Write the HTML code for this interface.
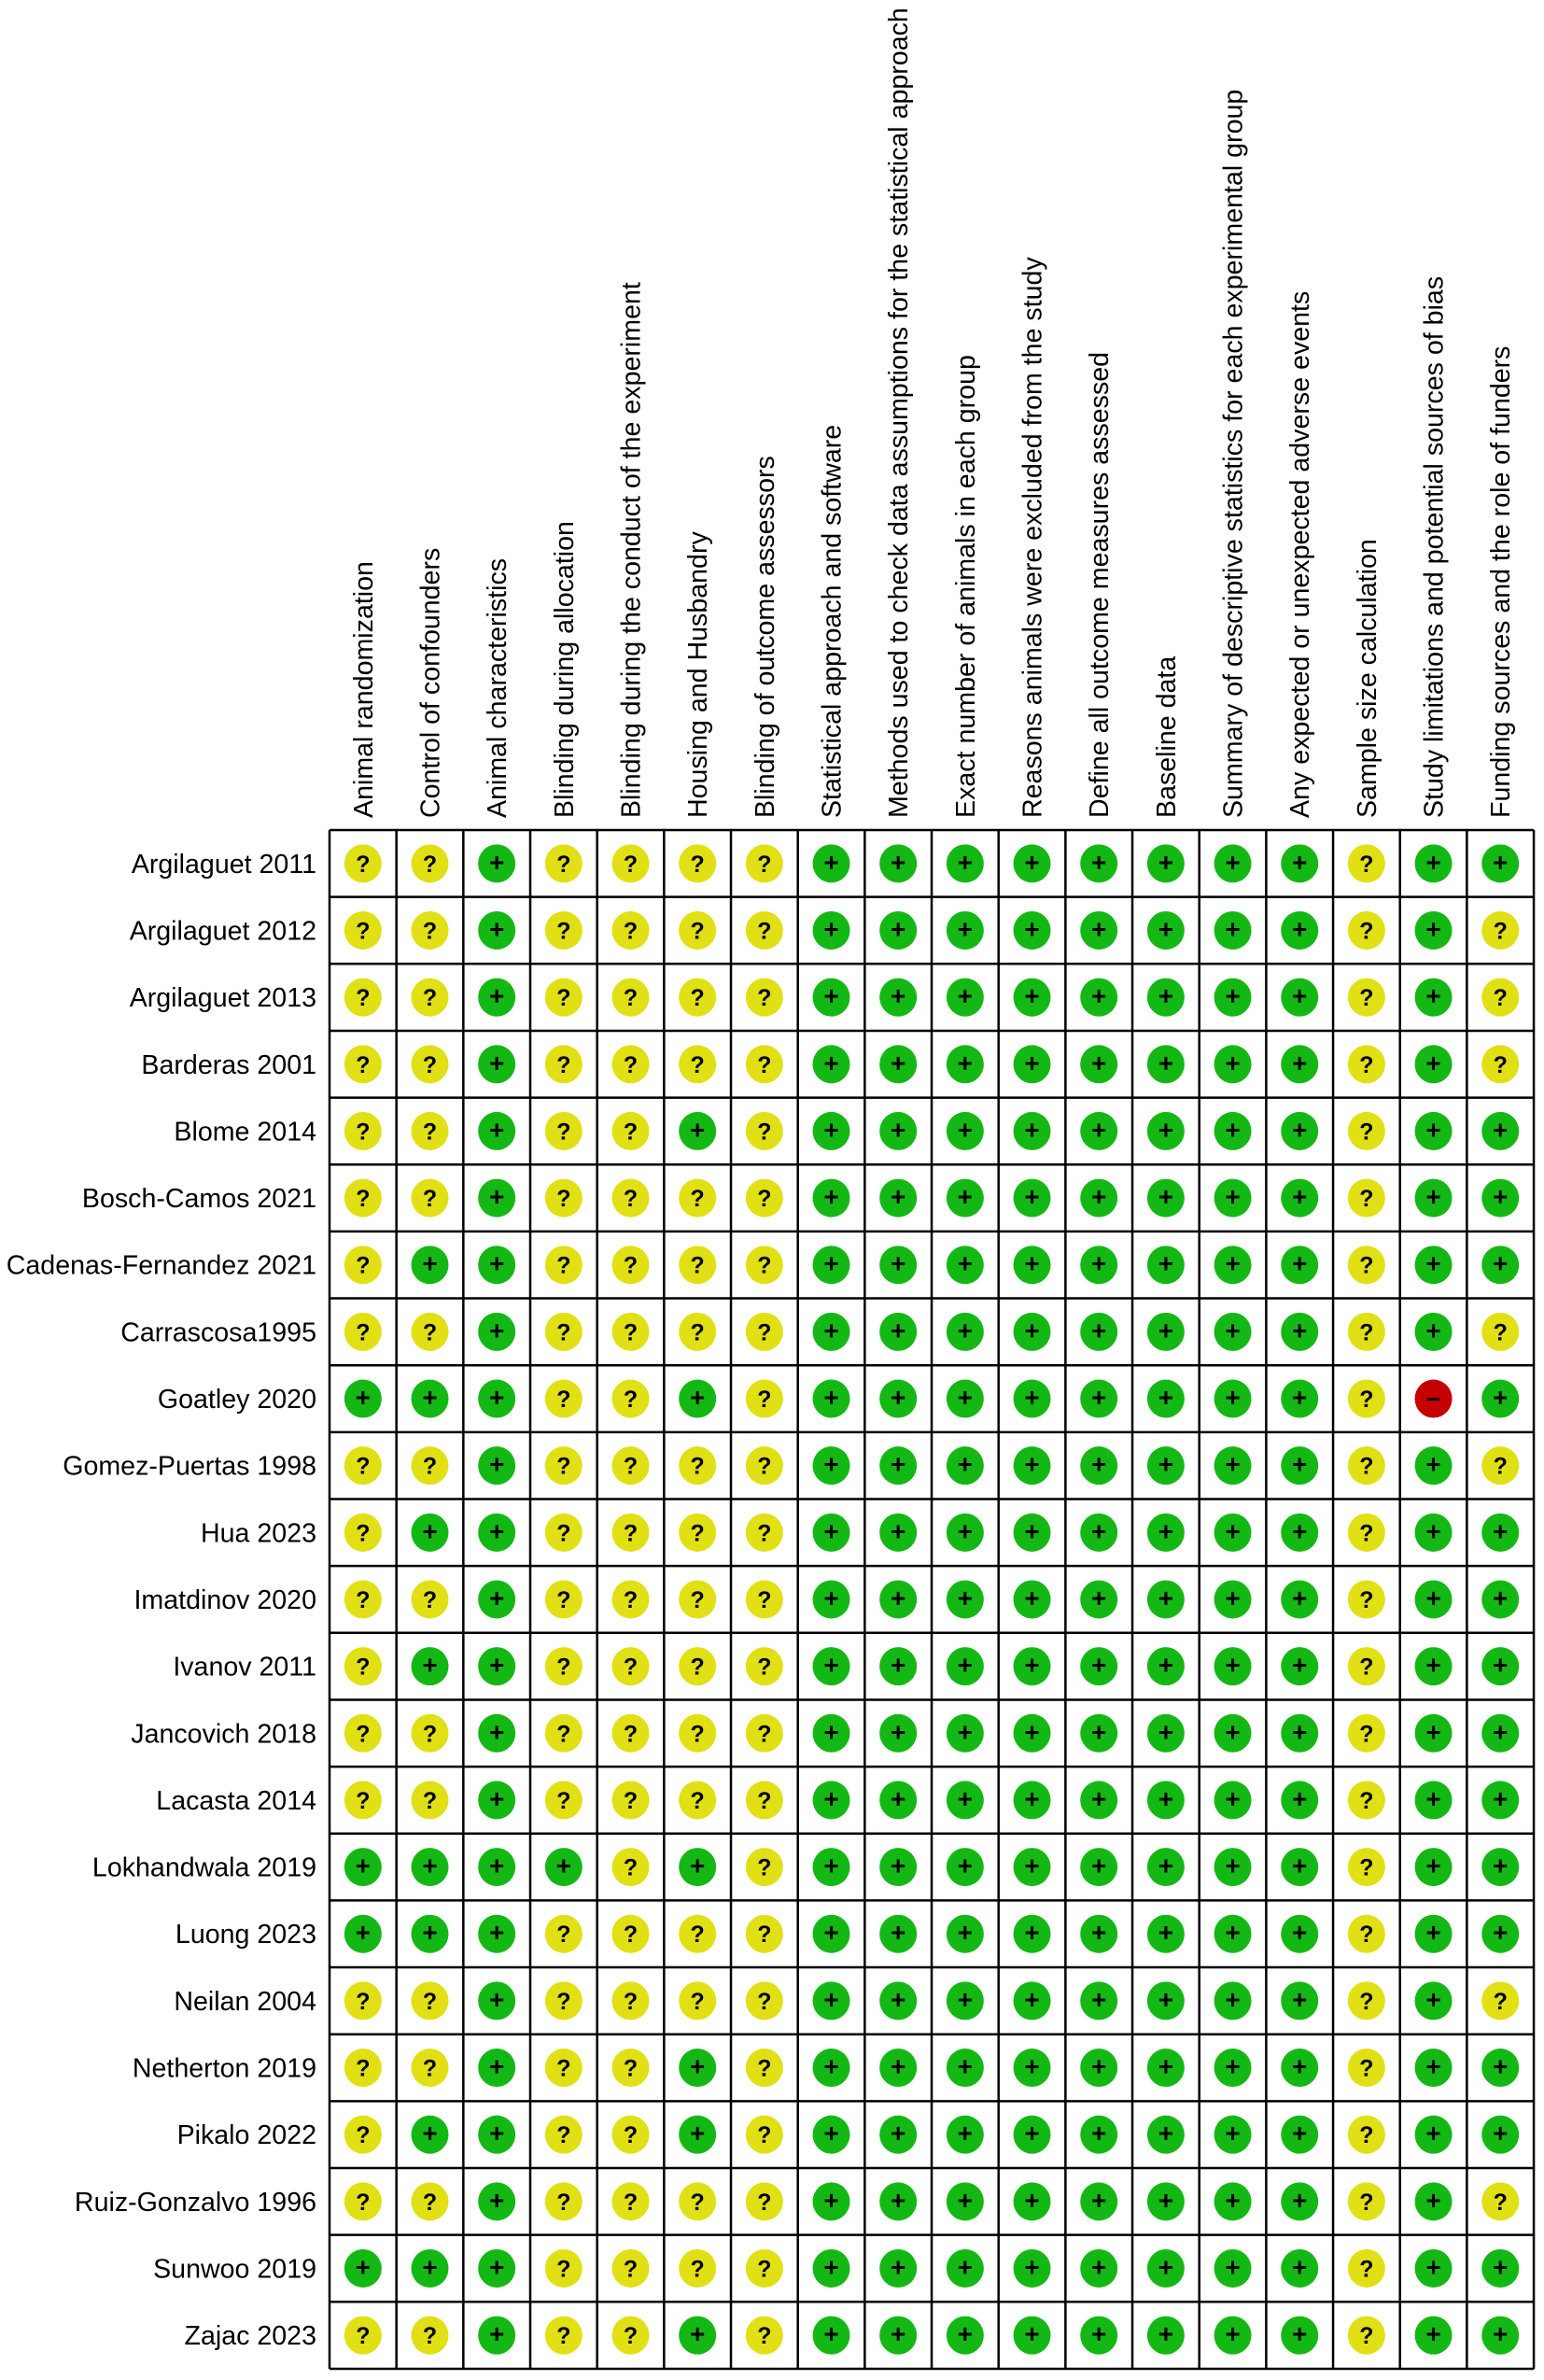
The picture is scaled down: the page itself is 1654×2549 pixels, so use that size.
<!DOCTYPE html>
<html><head><meta charset="utf-8"><style>
html,body{margin:0;padding:0;background:#fff;}
svg{display:block;font-family:"Liberation Sans",Arial,sans-serif;}
</style></head><body>
<svg id="chart" width="1654" height="2549" viewBox="0 0 1654 2549" xmlns="http://www.w3.org/2000/svg"></svg>
<script>
const domains = ["Animal randomization","Control of confounders","Animal characteristics","Blinding during allocation","Blinding during the conduct of the experiment","Housing and Husbandry","Blinding of outcome assessors","Statistical approach and software","Methods used to check data assumptions for the statistical approach","Exact number of animals in each group","Reasons animals were excluded from the study","Define all outcome measures assessed","Baseline data","Summary of descriptive statistics for each experimental group","Any expected or unexpected adverse events","Sample size calculation","Study limitations and potential sources of bias","Funding sources and the role of funders"];
const studies = ["Argilaguet 2011","Argilaguet 2012","Argilaguet 2013","Barderas 2001","Blome 2014","Bosch-Camos 2021","Cadenas-Fernandez 2021","Carrascosa1995","Goatley 2020","Gomez-Puertas 1998","Hua 2023","Imatdinov 2020","Ivanov 2011","Jancovich 2018","Lacasta 2014","Lokhandwala 2019","Luong 2023","Neilan 2004","Netherton 2019","Pikalo 2022","Ruiz-Gonzalvo 1996","Sunwoo 2019","Zajac 2023"];
const judgements = [
"??+????++++++++?++",
"??+????++++++++?+?",
"??+????++++++++?+?",
"??+????++++++++?+?",
"??+??+?++++++++?++",
"??+????++++++++?++",
"?++????++++++++?++",
"??+????++++++++?+?",
"+++??+?++++++++?-+",
"??+????++++++++?+?",
"?++????++++++++?++",
"??+????++++++++?++",
"?++????++++++++?++",
"??+????++++++++?++",
"??+????++++++++?++",
"++++?+?++++++++?++",
"+++????++++++++?++",
"??+????++++++++?+?",
"??+??+?++++++++?++",
"?++??+?++++++++?++",
"??+????++++++++?+?",
"+++????++++++++?++",
"??+??+?++++++++?++"
];
const NS="http://www.w3.org/2000/svg";
const svg=document.getElementById('chart');
const X0=353, Y0=889, CW=71.67, RH=71.65, FS=28.6;
const colX=i=>X0+i*CW, rowY=j=>Y0+j*RH;
function mk(t,a){const e=document.createElementNS(NS,t);for(const k in a)e.setAttribute(k,a[k]);svg.appendChild(e);return e;}
domains.forEach((d,i)=>{
  const cx=colX(i)+CW/2+10;
  const t=mk('text',{x:cx,y:876,transform:`rotate(-90 ${cx} 876)`,'font-size':FS,fill:'#000'});
  
  
  t.textContent=d;
});
studies.forEach((s,j)=>{
  const t=mk('text',{x:339,y:rowY(j)+RH/2+10,'text-anchor':'end','font-size':FS,fill:'#000'});
  
  
  t.textContent=s;
});
const colors={'+':'#14b814','?':'#e0e014','-':'#c40000'};
judgements.forEach((row,j)=>{
  [...row].forEach((v,i)=>{
    const cx=colX(i)+CW/2, cy=rowY(j)+RH/2;
    const c=mk('ellipse',{cx:cx,cy:cy,rx:20,ry:20.5,fill:colors[v]});
    
    
    const t=mk('text',{x:cx,y:cy+(v==='?'?9:8),'text-anchor':'middle','font-size':v==='?'?25:28,'font-weight':'bold',fill:'#000'});
    
    
    t.textContent=v==='-'?'–':v;
  });
});
for(let i=0;i<=domains.length;i++){const l=mk('line',{x1:colX(i),y1:Y0,x2:colX(i),y2:rowY(studies.length),stroke:'#000','stroke-width':2.5});
  }
for(let j=0;j<=studies.length;j++){const l=mk('line',{x1:X0,y1:rowY(j),x2:colX(domains.length),y2:rowY(j),stroke:'#000','stroke-width':2.5});
  }
</script>
</body></html>
